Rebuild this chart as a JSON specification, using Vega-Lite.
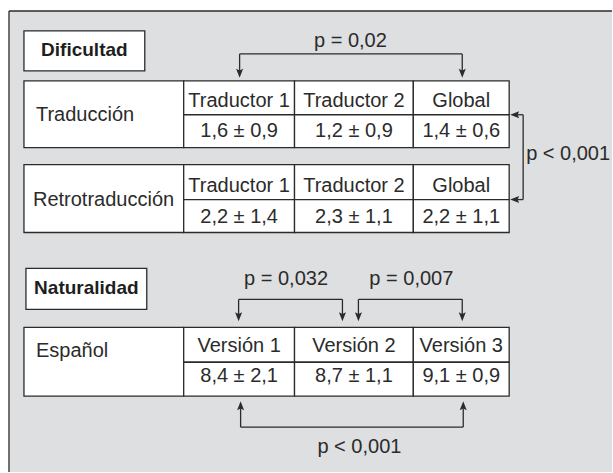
{
  "$schema": "https://vega.github.io/schema/vega-lite/v6.json",
  "width": 613,
  "height": 473,
  "autosize": {"type": "fit", "contains": "padding"},
  "padding": 0,
  "background": "#ffffff",
  "config": {"view": {"stroke": null}, "axis": {"disable": true}},
  "datasets": {
    "panel": [{"x": 9, "x2": 613, "y": 11, "y2": 473}],
    "boxes": [
      {"group": "Dificultad", "x": 24, "x2": 145, "y": 31, "y2": 71},
      {"group": "Naturalidad", "x": 26, "x2": 147, "y": 269, "y2": 310},
      {"group": "Traducción", "x": 24, "x2": 184, "y": 81, "y2": 148},
      {"group": "Traducción", "x": 184, "x2": 295, "y": 81, "y2": 115},
      {"group": "Traducción", "x": 295, "x2": 414, "y": 81, "y2": 115},
      {"group": "Traducción", "x": 414, "x2": 510, "y": 81, "y2": 115},
      {"group": "Traducción", "x": 184, "x2": 295, "y": 115, "y2": 148},
      {"group": "Traducción", "x": 295, "x2": 414, "y": 115, "y2": 148},
      {"group": "Traducción", "x": 414, "x2": 510, "y": 115, "y2": 148},
      {"group": "Retrotraducción", "x": 24, "x2": 184, "y": 165, "y2": 233},
      {"group": "Retrotraducción", "x": 184, "x2": 295, "y": 165, "y2": 200},
      {"group": "Retrotraducción", "x": 295, "x2": 414, "y": 165, "y2": 200},
      {"group": "Retrotraducción", "x": 414, "x2": 510, "y": 165, "y2": 200},
      {"group": "Retrotraducción", "x": 184, "x2": 295, "y": 200, "y2": 233},
      {"group": "Retrotraducción", "x": 295, "x2": 414, "y": 200, "y2": 233},
      {"group": "Retrotraducción", "x": 414, "x2": 510, "y": 200, "y2": 233},
      {"group": "Español", "x": 24, "x2": 184, "y": 328, "y2": 397},
      {"group": "Español", "x": 184, "x2": 295, "y": 328, "y2": 363},
      {"group": "Español", "x": 295, "x2": 414, "y": 328, "y2": 363},
      {"group": "Español", "x": 414, "x2": 510, "y": 328, "y2": 363},
      {"group": "Español", "x": 184, "x2": 295, "y": 363, "y2": 397},
      {"group": "Español", "x": 295, "x2": 414, "y": 363, "y2": 397},
      {"group": "Español", "x": 414, "x2": 510, "y": 363, "y2": 397}
    ],
    "segments": [
      {"part": "border", "x": 9, "y": 11, "x2": 9, "y2": 473},
      {"part": "border", "x": 9, "y": 11, "x2": 613, "y2": 11},
      {"part": "dif p=0,02", "x": 240, "y": 54, "x2": 463, "y2": 54},
      {"part": "dif p=0,02", "x": 240, "y": 54, "x2": 240, "y2": 72},
      {"part": "dif p=0,02", "x": 463, "y": 54, "x2": 463, "y2": 72},
      {"part": "dif p<0,001", "x": 524, "y": 115, "x2": 524, "y2": 200},
      {"part": "dif p<0,001", "x": 515, "y": 115, "x2": 524, "y2": 115},
      {"part": "dif p<0,001", "x": 515, "y": 200, "x2": 524, "y2": 200},
      {"part": "nat p=0,032", "x": 239, "y": 300, "x2": 343, "y2": 300},
      {"part": "nat p=0,032", "x": 239, "y": 300, "x2": 239, "y2": 316},
      {"part": "nat p=0,032", "x": 343, "y": 300, "x2": 343, "y2": 316},
      {"part": "nat p=0,007", "x": 359, "y": 300, "x2": 463, "y2": 300},
      {"part": "nat p=0,007", "x": 359, "y": 300, "x2": 359, "y2": 316},
      {"part": "nat p=0,007", "x": 463, "y": 300, "x2": 463, "y2": 316},
      {"part": "nat p<0,001", "x": 241, "y": 409, "x2": 241, "y2": 428},
      {"part": "nat p<0,001", "x": 464, "y": 409, "x2": 464, "y2": 428},
      {"part": "nat p<0,001", "x": 241, "y": 428, "x2": 464, "y2": 428}
    ],
    "arrows": [
      {"dir": "down", "x": 240, "y": 78},
      {"dir": "down", "x": 463, "y": 78},
      {"dir": "left", "x": 511, "y": 115},
      {"dir": "left", "x": 511, "y": 200},
      {"dir": "down", "x": 239, "y": 322},
      {"dir": "down", "x": 343, "y": 322},
      {"dir": "down", "x": 359, "y": 322},
      {"dir": "down", "x": 463, "y": 322},
      {"dir": "up", "x": 241, "y": 402},
      {"dir": "up", "x": 464, "y": 402}
    ],
    "texts": [
      {"role": "title", "label": "Dificultad", "x": 84.5, "y": 56},
      {"role": "title", "label": "Naturalidad", "x": 86.5, "y": 295},
      {"role": "row", "label": "Traducción", "x": 36, "y": 121},
      {"role": "row", "label": "Retrotraducción", "x": 33, "y": 206},
      {"role": "row", "label": "Español", "x": 36, "y": 358},
      {"role": "row", "label": "p < 0,001", "x": 527, "y": 160},
      {"role": "cell", "label": "Traductor 1", "x": 239.5, "y": 107},
      {"role": "cell", "label": "Traductor 2", "x": 354.5, "y": 107},
      {"role": "cell", "label": "Global", "x": 462, "y": 107},
      {"role": "cell", "label": "1,6 ± 0,9", "x": 239.5, "y": 137},
      {"role": "cell", "label": "1,2 ± 0,9", "x": 354.5, "y": 137},
      {"role": "cell", "label": "1,4 ± 0,6", "x": 462, "y": 137},
      {"role": "cell", "label": "Traductor 1", "x": 239.5, "y": 192},
      {"role": "cell", "label": "Traductor 2", "x": 354.5, "y": 192},
      {"role": "cell", "label": "Global", "x": 462, "y": 192},
      {"role": "cell", "label": "2,2 ± 1,4", "x": 239.5, "y": 223},
      {"role": "cell", "label": "2,3 ± 1,1", "x": 354.5, "y": 223},
      {"role": "cell", "label": "2,2 ± 1,1", "x": 462, "y": 223},
      {"role": "cell", "label": "Versión 1", "x": 239.5, "y": 353},
      {"role": "cell", "label": "Versión 2", "x": 354.5, "y": 353},
      {"role": "cell", "label": "Versión 3", "x": 462, "y": 353},
      {"role": "cell", "label": "8,4 ± 2,1", "x": 239.5, "y": 383},
      {"role": "cell", "label": "8,7 ± 1,1", "x": 354.5, "y": 383},
      {"role": "cell", "label": "9,1 ± 0,9", "x": 462, "y": 383},
      {"role": "cell", "label": "p = 0,02", "x": 351, "y": 47},
      {"role": "cell", "label": "p = 0,032", "x": 286.5, "y": 286},
      {"role": "cell", "label": "p = 0,007", "x": 412, "y": 286},
      {"role": "cell", "label": "p < 0,001", "x": 360, "y": 454}
    ]
  },
  "layer": [
    {
      "data": {"name": "panel"},
      "mark": {"type": "rect", "fill": "#dedfe1", "strokeWidth": 0},
      "encoding": {
        "x": {"field": "x", "type": "quantitative", "scale": {"domain": [0, 613], "nice": false, "zero": false}, "axis": null},
        "x2": {"field": "x2"},
        "y": {"field": "y", "type": "quantitative", "scale": {"domain": [0, 473], "nice": false, "zero": false, "reverse": true}, "axis": null},
        "y2": {"field": "y2"}
      }
    },
    {
      "data": {"name": "boxes"},
      "mark": {"type": "rect", "fill": "#ffffff", "stroke": "#2b2b2b", "strokeWidth": 1.3},
      "encoding": {
        "x": {"field": "x", "type": "quantitative"},
        "x2": {"field": "x2"},
        "y": {"field": "y", "type": "quantitative"},
        "y2": {"field": "y2"}
      }
    },
    {
      "data": {"name": "segments"},
      "mark": {"type": "rule", "stroke": "#2b2b2b", "strokeWidth": 1.3},
      "encoding": {
        "x": {"field": "x", "type": "quantitative"},
        "x2": {"field": "x2"},
        "y": {"field": "y", "type": "quantitative"},
        "y2": {"field": "y2"}
      }
    },
    {
      "data": {"name": "arrows"},
      "mark": {"type": "point", "filled": true, "fill": "#2b2b2b", "strokeWidth": 0, "size": 81, "opacity": 1},
      "encoding": {
        "x": {"field": "x", "type": "quantitative"},
        "y": {"field": "y", "type": "quantitative"},
        "shape": {
          "field": "dir", "type": "nominal", "legend": null,
          "scale": {
            "domain": ["down", "up", "left"],
            "range": ["M0,0L-0.78,-2L0,-1.65L0.78,-2Z", "M0,0L-0.78,2L0,1.65L0.78,2Z", "M0,0L2,-0.78L1.65,0L2,0.78Z"]
          }
        }
      }
    },
    {
      "data": {"name": "texts"},
      "transform": [{"filter": "datum.role === 'title'"}],
      "mark": {"type": "text", "font": "Liberation Sans", "fontSize": 19, "fontWeight": "bold", "fill": "#1e1e1e", "align": "center", "baseline": "alphabetic"},
      "encoding": {
        "x": {"field": "x", "type": "quantitative"},
        "y": {"field": "y", "type": "quantitative"},
        "text": {"field": "label"}
      }
    },
    {
      "data": {"name": "texts"},
      "transform": [{"filter": "datum.role === 'row'"}],
      "mark": {"type": "text", "font": "Liberation Sans", "fontSize": 20, "fill": "#2b2b2b", "align": "left", "baseline": "alphabetic"},
      "encoding": {
        "x": {"field": "x", "type": "quantitative"},
        "y": {"field": "y", "type": "quantitative"},
        "text": {"field": "label"}
      }
    },
    {
      "data": {"name": "texts"},
      "transform": [{"filter": "datum.role === 'cell'"}],
      "mark": {"type": "text", "font": "Liberation Sans", "fontSize": 20, "fill": "#2b2b2b", "align": "center", "baseline": "alphabetic"},
      "encoding": {
        "x": {"field": "x", "type": "quantitative"},
        "y": {"field": "y", "type": "quantitative"},
        "text": {"field": "label"}
      }
    }
  ]
}
